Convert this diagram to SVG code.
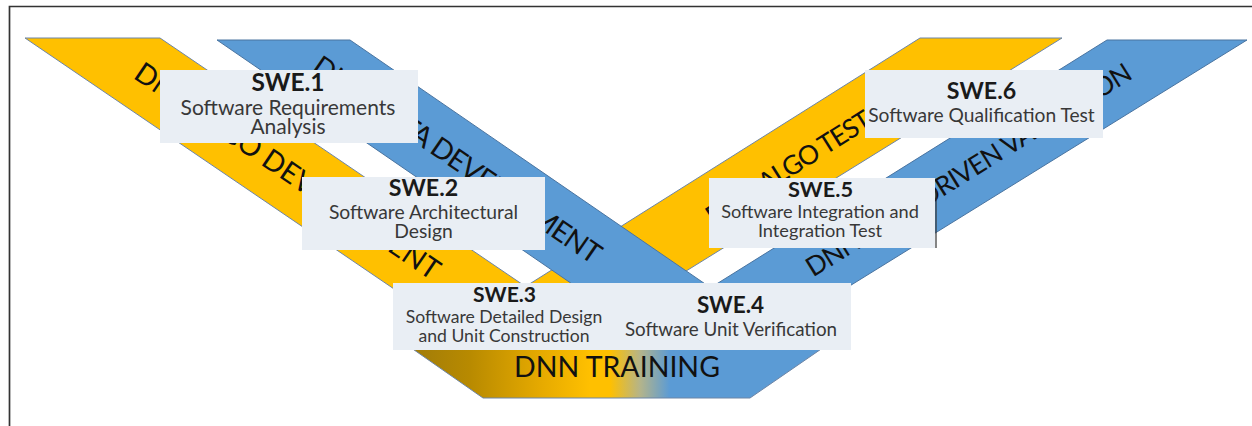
<svg xmlns="http://www.w3.org/2000/svg" width="1252" height="426" viewBox="0 0 1252 426">
<style>
.bg{fill:#ffffff}
.frame{stroke:#333333;stroke-width:1.7;fill:none}
.yel{fill:#FFC000;stroke:#6D85A6;stroke-width:1}
.blu{fill:#5B9BD5;stroke:#4A74A0;stroke-width:1}
.band{font-family:Lato,"Open Sans","Liberation Sans",sans-serif;fill:#111111}
.box{fill:#E9EEF4}
.hd{font-family:Lato,"Open Sans","Liberation Sans",sans-serif;font-weight:bold;fill:#1a1a1a;text-anchor:middle}
.sb{font-family:Lato,"Open Sans","Liberation Sans",sans-serif;fill:#383838;text-anchor:middle}
.train{font-family:Lato,"Open Sans","Liberation Sans",sans-serif;font-size:28.5px;fill:#111111}
</style>
<defs>
<linearGradient id="gTrain" gradientUnits="userSpaceOnUse" x1="407" y1="0" x2="827" y2="0">
<stop offset="0" stop-color="#9E7A0A"/>
<stop offset="0.15" stop-color="#B88A00"/>
<stop offset="0.32" stop-color="#E6AA00"/>
<stop offset="0.436" stop-color="#FFC000"/>
<stop offset="0.483" stop-color="#FFC000"/>
<stop offset="0.555" stop-color="#B4B48A"/>
<stop offset="0.626" stop-color="#5B9BD5"/>
<stop offset="1" stop-color="#5B9BD5"/>
</linearGradient>
</defs>
<rect class="bg" x="0" y="0" width="1252" height="426"/>
<path class="frame" d="M9.5,426 L9.5,6.5 L1252,6.5"/>

<g id="yellow-v">
<polygon class="yel" points="25,38 160,38 525.5,286.5 920,38 1062,38 519.5,374.3"/>
<text class="band" font-size="28.5" textLength="362" transform="translate(138,68.9) rotate(34.2)" dy="0.36em">DNN ALGO DEVELOPMENT</text>
<text class="band" font-size="26.5" textLength="190" transform="translate(708,218) rotate(-32.2)" dy="0.36em">DNN ALGO TEST</text>
</g>

<g id="blue-v">
<polygon class="blu" points="217,40 350,40 710.6,287.7 1107,40 1247,40 705.2,375.4"/>
<text class="band" font-size="28.5" textLength="343" transform="translate(316,62.3) rotate(34.5)" dy="0.36em">DNN DATA DEVELOPMENT</text>
<text class="band" font-size="26.5" textLength="378" transform="translate(808,269.5) rotate(-31.9)" dy="0.36em">DNN DATA DRIVEN VALIDATION</text>
</g>

<g id="dnn-training">
<polygon fill="url(#gTrain)" stroke="#6D85A6" stroke-width="1" points="407,345 827,345 750,398 483,398"/>
<text class="train" x="617" y="377" text-anchor="middle">DNN TRAINING</text>
</g>

<g id="connectors"></g>

<g id="swe1">
<rect class="box" x="160" y="70" width="258" height="73"/>
<text class="hd" x="288" y="91" font-size="24.5">SWE.1</text>
<text class="sb" x="288" y="114.5" font-size="21">Software Requirements</text>
<text class="sb" x="288" y="133.5" font-size="21">Analysis</text>
</g>

<g id="swe2">
<rect class="box" x="302" y="177" width="243" height="73"/>
<text class="hd" x="423.5" y="196" font-size="23.2">SWE.2</text>
<text class="sb" x="423.5" y="219.3" font-size="19.3">Software Architectural</text>
<text class="sb" x="423.5" y="238.3" font-size="19.3">Design</text>
</g>

<g id="swe3">
<rect class="box" x="393" y="283" width="228" height="67"/>
<text class="hd" x="504.5" y="301.7" font-size="21.1">SWE.3</text>
<text class="sb" x="504" y="323.3" font-size="17.6">Software Detailed Design</text>
<text class="sb" x="504" y="341.7" font-size="17.6">and Unit Construction</text>
</g>

<g id="swe4">
<rect class="box" x="620" y="283" width="231" height="67"/>
<text class="hd" x="730.5" y="313.3" font-size="22.5">SWE.4</text>
<text class="sb" x="731" y="335.7" font-size="18.8">Software Unit Verification</text>
</g>

<g id="swe5">
<rect class="box" x="709" y="178" width="226" height="70"/>
<line x1="936" y1="190" x2="936" y2="248" stroke="#333333" stroke-width="1.2"/>
<text class="hd" x="820.5" y="197.3" font-size="21.8">SWE.5</text>
<text class="sb" x="820" y="218.3" font-size="18.2">Software Integration and</text>
<text class="sb" x="820" y="236.7" font-size="18.2">Integration Test</text>
</g>

<g id="swe6">
<rect class="box" x="865" y="70" width="238" height="68"/>
<text class="hd" x="981.5" y="99" font-size="23.2">SWE.6</text>
<text class="sb" x="981.5" y="121.7" font-size="19.2">Software Qualification Test</text>
</g>
</svg>
